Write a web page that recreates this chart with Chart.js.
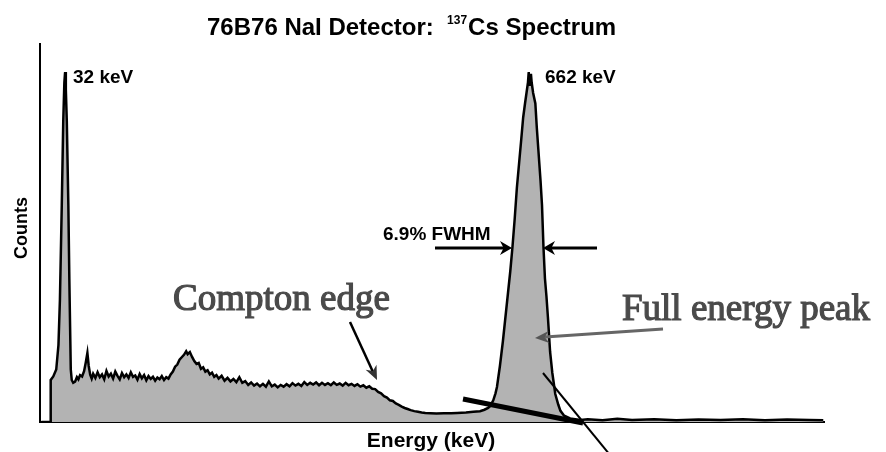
<!DOCTYPE html>
<html>
<head>
<meta charset="utf-8">
<script src="https://cdn.jsdelivr.net/npm/chart.js"></script>
<style>
  body { margin: 0; background: #fff; }
  canvas { display: block; }
</style>
</head>
<body>
<canvas id="spectrumChart" width="886" height="452"></canvas>
<script>
// Spectrum data (energy in keV, counts in relative units, 32 keV peak = 100)
const energyKeV = [
  0, 12, 12.5, 16, 20, 23, 25, 27.5, 29.5, 31, 32, 33, 34.3, 36.4, 37.8, 39.7, 41, 43, 45.5, 48,
  50, 52.3, 55, 57.7, 60, 62.2, 64, 66, 68, 70, 73, 76, 79, 82, 85, 88, 91, 94, 97, 100,
  103, 106, 109, 112, 115, 118, 121, 124, 127, 130, 133, 136, 139, 142, 145, 148, 151, 154, 157, 160,
  163, 166, 169, 172, 175, 178, 181, 184, 187, 190, 193, 196, 198, 201, 204, 207, 210, 213, 216, 219,
  222, 225, 228, 231, 234, 237, 240, 244, 248, 252, 256, 260, 264, 268, 272, 276, 280, 284, 288, 292,
  296, 300, 304, 308, 312, 316, 320, 324, 328, 332, 336, 340, 344, 348, 352, 356, 360, 364, 368, 372,
  376, 380, 384, 388, 392, 396, 400, 404, 408, 412, 416, 420, 424, 428, 432, 436, 440, 444, 448, 452,
  456, 460, 464, 468, 472, 476, 480, 484, 488, 492, 496, 500, 505, 510, 515, 520, 527, 535, 545, 555,
  563, 575, 585, 594, 600, 605, 608, 612, 615, 617, 619, 621, 623, 625, 628, 632, 635, 638, 641, 644,
  647, 650, 652.5, 655, 657, 659, 660, 661, 662, 663, 664, 666, 669, 671, 673, 676, 678, 680, 682, 684,
  686, 689, 692, 696, 700, 703, 708, 716, 730, 740, 760, 780, 800, 830, 860, 890, 920, 950, 980, 1010,
  1040, 1059
];
const counts = [
  0, 0, 12, 13, 15, 22, 35, 62, 86, 97, 100, 95, 86, 62, 40, 15, 12, 11.2, 11.5, 12.8,
  12.2, 13.4, 13, 14.5, 17, 19.7, 16, 13.5, 12.4, 13.8, 12.6, 14.2, 12.8, 13.6, 12.2, 14.6, 13, 13.8, 12.4, 14.4,
  13.2, 12.2, 14, 12.8, 13.6, 12.6, 14.2, 12.9, 13.3, 12.1, 13.7, 12.5, 13.4, 11.9, 13.1, 12.3, 12.9, 11.8, 12.7, 12.2,
  13.1, 12, 12.8, 12.4, 13.6, 14.4, 15.8, 16.4, 17.8, 18.5, 19.2, 20.2, 19.4, 20, 18.6, 17.4, 16.6, 16.9, 15.2, 15.6,
  14.4, 14.8, 13.6, 14.1, 12.9, 13.4, 12.4, 13.2, 11.8, 12.6, 11.6, 12.3, 11.4, 12.8, 11.2, 11.7, 10.6, 11.3, 10.4, 11,
  10.2, 10.9, 10.1, 11.6, 10.2, 10.7, 9.9, 10.6, 10.1, 10.8, 10.2, 11.1, 10.4, 10.9, 10.3, 11.4, 10.6, 11.2, 10.7, 11.3,
  10.5, 11.2, 10.6, 11.1, 10.5, 11.3, 10.6, 11, 10.4, 11.2, 10.5, 10.9, 10.3, 10.8, 10.1, 10.5, 9.8, 10.2, 9.5, 9.4,
  8.6, 8.2, 7.4, 7, 6.2, 6, 5.3, 4.9, 4.4, 4, 3.7, 3.4, 3.1, 2.9, 2.7, 2.6, 2.5, 2.4, 2.5, 2.5,
  2.6, 2.7, 2.9, 3.1, 3.5, 4, 4.6, 6.2, 8.2, 10, 13, 16, 19.5, 23, 29, 37, 43, 50, 58, 67,
  74, 81, 87, 91, 94, 97, 100, 96, 98.6, 99.5, 97, 94, 91, 84, 78, 69, 62, 50, 41, 36,
  30, 20, 14, 8, 5, 3.2, 1.8, 1, 0.6, 0.8, 0.5, 0.9, 0.6, 0.8, 0.5, 0.7, 0.6, 0.8, 0.5, 0.7,
  0.6, 0.5
];

// Text labels
const titleMain = '76B76 NaI Detector:  ';
const titleSup = '137';
const titleRest = 'Cs Spectrum';
const peakLabels = ['32 keV', '662 keV'];

const points = energyKeV.map((e, i) => ({ x: e, y: counts[i] }));

function arrowHead(ctx, x1, y1, x2, y2, len, half, color) {
    const a = Math.atan2(y2 - y1, x2 - x1);
    ctx.save();
    ctx.fillStyle = color;
    ctx.beginPath();
    ctx.moveTo(x2, y2);
    ctx.lineTo(x2 - len * Math.cos(a) + half * Math.sin(a), y2 - len * Math.sin(a) - half * Math.cos(a));
    ctx.lineTo(x2 - len * Math.cos(a) * 0.7, y2 - len * Math.sin(a) * 0.7);
    ctx.lineTo(x2 - len * Math.cos(a) - half * Math.sin(a), y2 - len * Math.sin(a) + half * Math.cos(a));
    ctx.closePath();
    ctx.fill();
    ctx.restore();
}

function line(ctx, x1, y1, x2, y2, w, color) {
    ctx.save();
    ctx.strokeStyle = color;
    ctx.lineWidth = w;
    ctx.beginPath();
    ctx.moveTo(x1, y1);
    ctx.lineTo(x2, y2);
    ctx.stroke();
    ctx.restore();
}

// Labels, arrows and title drawn on top of the chart
const annotations = {
    id: 'annotations',
    afterDraw(chart) {
        const ctx = chart.ctx;
        const sans = '"Liberation Sans", Arial, sans-serif';
        const serif = '"Liberation Serif", "Times New Roman", serif';
        ctx.save();
        ctx.fillStyle = '#000';
        ctx.textBaseline = 'alphabetic';

        // title with superscript
        ctx.font = 'bold 24px ' + sans;
        ctx.fillText(titleMain, 207, 35);
        const w1 = ctx.measureText(titleMain).width;
        ctx.font = 'bold 12px ' + sans;
        ctx.fillText(titleSup, 207 + w1, 24);
        const w2 = ctx.measureText(titleSup).width;
        ctx.font = 'bold 24px ' + sans;
        ctx.fillText(titleRest, 207 + w1 + w2 + 1, 35);

        // peak labels
        ctx.font = 'bold 19px ' + sans;
        ctx.fillText(peakLabels[0], 73, 83);
        ctx.fillText(peakLabels[1], 545, 83);
        ctx.fillText('6.9% FWHM', 383, 240);

        // axis titles
        ctx.font = 'bold 21px ' + sans;
        ctx.textAlign = 'center';
        ctx.fillText('Energy (keV)', 431, 447);
        ctx.save();
        ctx.translate(27, 228);
        ctx.rotate(-Math.PI / 2);
        ctx.font = 'bold 18px ' + sans;
        ctx.fillText('Counts', 0, 0);
        ctx.restore();
        ctx.textAlign = 'left';

        // serif annotations
        ctx.font = '37px ' + serif;
        ctx.fillStyle = '#4a4a4a';
        ctx.strokeStyle = '#4a4a4a';
        ctx.lineWidth = 1.2;
        ctx.fillText('Compton edge', 173, 310);
        ctx.strokeText('Compton edge', 173, 310);
        ctx.fillText('Full energy peak', 622, 320);
        ctx.strokeText('Full energy peak', 622, 320);
        ctx.restore();

        // FWHM arrows
        line(ctx, 435, 248, 504, 248, 3, '#000');
        arrowHead(ctx, 435, 248, 512, 248, 12, 7, '#000');
        line(ctx, 597, 248, 551, 248, 3, '#000');
        arrowHead(ctx, 597, 248, 543, 248, 12, 7, '#000');

        // Compton edge arrow
        line(ctx, 350, 322, 373, 372, 2.5, '#000');
        arrowHead(ctx, 350, 322, 377, 380, 14, 6, '#333');

        // Full energy peak arrow
        line(ctx, 663, 329, 545, 337, 3, '#666');
        arrowHead(ctx, 663, 329, 535, 338, 14, 6, '#555');

        // baseline extrapolation and pointer line
        line(ctx, 463, 399, 583, 423, 5, '#000');
        line(ctx, 543, 373, 610, 455, 2, '#000');
    }
};

const ctx = document.getElementById('spectrumChart').getContext('2d');
new Chart(ctx, {
    type: 'line',
    data: {
        datasets: [{
            data: points,
            borderColor: '#000',
            borderWidth: 2.5,
            backgroundColor: '#b3b3b3',
            fill: 'origin',
            pointRadius: 0,
            tension: 0
        }]
    },
    options: {
        responsive: false,
        animation: false,
        layout: {
            padding: { left: 40, right: 62, top: 44, bottom: 30 }
        },
        plugins: {
            legend: { display: false },
            tooltip: { enabled: false }
        },
        scales: {
            x: {
                type: 'linear',
                min: -2,
                max: 1060,
                ticks: { display: false, padding: 0 },
                grid: { display: false, drawTicks: false, tickLength: 0 },
                border: { display: true, color: '#000', width: 2 }
            },
            y: {
                min: 0,
                max: 108,
                ticks: { display: false, padding: 0 },
                grid: { display: false, drawTicks: false, tickLength: 0 },
                border: { display: true, color: '#000', width: 2 }
            }
        }
    },
    plugins: [annotations]
});
</script>
</body>
</html>
